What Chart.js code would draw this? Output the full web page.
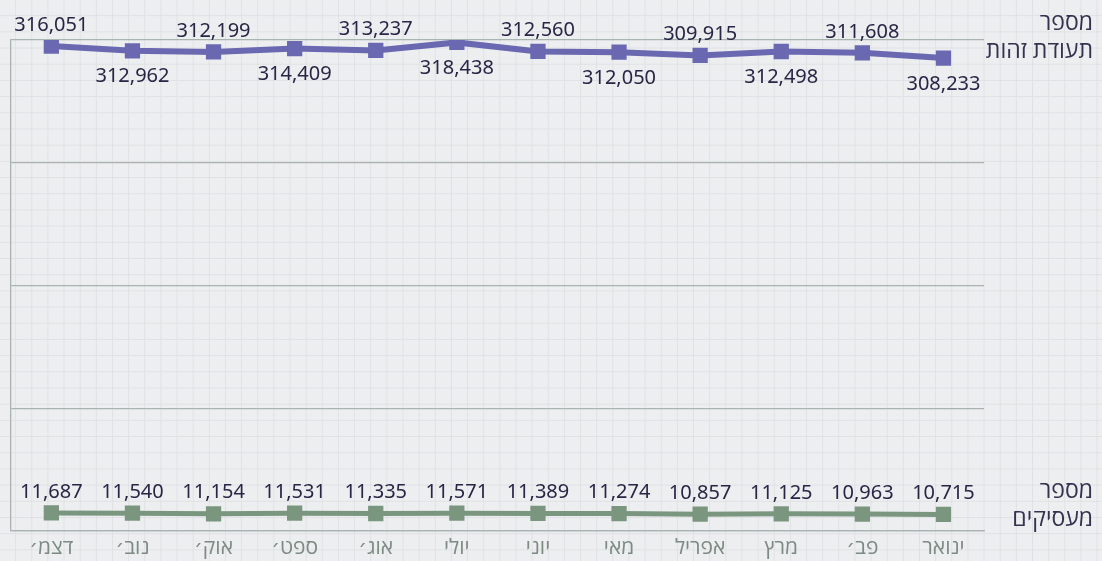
<!DOCTYPE html>
<html lang="he">
<head>
<meta charset="utf-8">
<script src="https://cdn.jsdelivr.net/npm/chart.js@4"></script>
<style>
  html, body { margin: 0; padding: 0; }
  body {
    width: 1102px; height: 561px; overflow: hidden;
    background-color: #eceef0;
    background-image:
      linear-gradient(to right, #dfe1e4 1.3px, transparent 1.3px),
      linear-gradient(to bottom, #dfe1e4 1.3px, transparent 1.3px);
    background-size: 16.15px 16.2px;
    background-position: -1px -1px;
  }
  #wrap { position: relative; width: 1102px; height: 561px; }
</style>
</head>
<body>
<div id="wrap"><canvas id="chart"></canvas></div>
<script>
// chronological order, axis drawn reversed (RTL)
const months = ['ינואר', 'פב׳', 'מרץ', 'אפריל', 'מאי', 'יוני', 'יולי', 'אוג׳', 'ספט׳', 'אוק׳', 'נוב׳', 'דצמ׳'];
const idNumbers = [308233, 311608, 312498, 309915, 312050, 312560, 318438, 313237, 314409, 312199, 312962, 316051];
const employers = [10715, 10963, 11125, 10857, 11274, 11389, 11571, 11335, 11531, 11154, 11540, 11687];
const seriesNames = [['מספר', 'תעודת זהות'], ['מספר', 'מעסיקים']];
const yTicks = [0, 80000, 160000, 240000, 320000];

const FONT = "'Noto Sans', 'Open Sans', 'DejaVu Sans', sans-serif";
const LABEL_COLOR = '#272645';
const GRID = '#a9b4ae';

const fmt = v => v.toLocaleString('en-US');

const valueLabels = {
  id: 'valueLabels',
  afterDatasetsDraw(chart) {
    const ctx = chart.ctx;
    ctx.save();
    ctx.font = '20px ' + FONT;
    ctx.fillStyle = LABEL_COLOR;
    ctx.textAlign = 'center';
    ctx.textBaseline = 'middle';
    chart.data.datasets.forEach((ds, di) => {
      chart.getDatasetMeta(di).data.forEach((pt, i) => {
        let dy = -21;
        if (di === 0 && i % 2 === 0) dy = 26;
        ctx.fillText(fmt(ds.data[i]), pt.x, pt.y + dy);
      });
    });
    // series names on the right
    const a = chart.chartArea;
    ctx.font = '23px ' + FONT;
    ctx.textAlign = 'right';
    ctx.fillStyle = '#33334f';
    const x = chart.width - 9;
    ctx.fillText(seriesNames[0][0], x, a.top - 17);
    ctx.fillText(seriesNames[0][1], x, a.top + 11);
    ctx.fillText(seriesNames[1][0], x, a.bottom - 39);
    ctx.fillText(seriesNames[1][1], x, a.bottom - 11);
    ctx.restore();
  }
};

new Chart(document.getElementById('chart'), {
  type: 'line',
  data: {
    labels: months,
    datasets: [
      {
        label: seriesNames[0].join(' '),
        data: idNumbers,
        borderColor: '#6a68b1', backgroundColor: '#6a68b1',
        borderWidth: 6, pointStyle: 'rect', pointRadius: 10.8,
        pointBorderWidth: 0, tension: 0
      },
      {
        label: seriesNames[1].join(' '),
        data: employers,
        borderColor: '#7b967f', backgroundColor: '#7b967f',
        borderWidth: 5, pointStyle: 'rect', pointRadius: 10.8,
        pointBorderWidth: 0, tension: 0
      }
    ]
  },
  options: {
    responsive: true, maintainAspectRatio: false, animation: false,
    devicePixelRatio: 1,
    layout: { padding: { left: 9, right: 118, top: 40, bottom: -5 } },
    plugins: { legend: { display: false }, tooltip: { enabled: false } },
    scales: {
      x: {
        reverse: true, offset: true,
        grid: { display: false, drawTicks: false },
        border: { display: true, color: GRID, width: 1.3 },
        ticks: { color: '#7d8b82', font: { size: 21, family: FONT, lineHeight: 0.72 }, padding: 10, maxRotation: 0 }
      },
      y: {
        min: yTicks[0], max: yTicks[yTicks.length - 1],
        afterBuildTicks: s => { s.ticks = yTicks.map(v => ({ value: v })); },
        grid: { color: GRID, lineWidth: 1.3, drawTicks: false },
        border: { display: true, color: GRID, width: 1.3 },
        ticks: { display: false }
      }
    }
  },
  plugins: [valueLabels]
});
</script>
</body>
</html>
